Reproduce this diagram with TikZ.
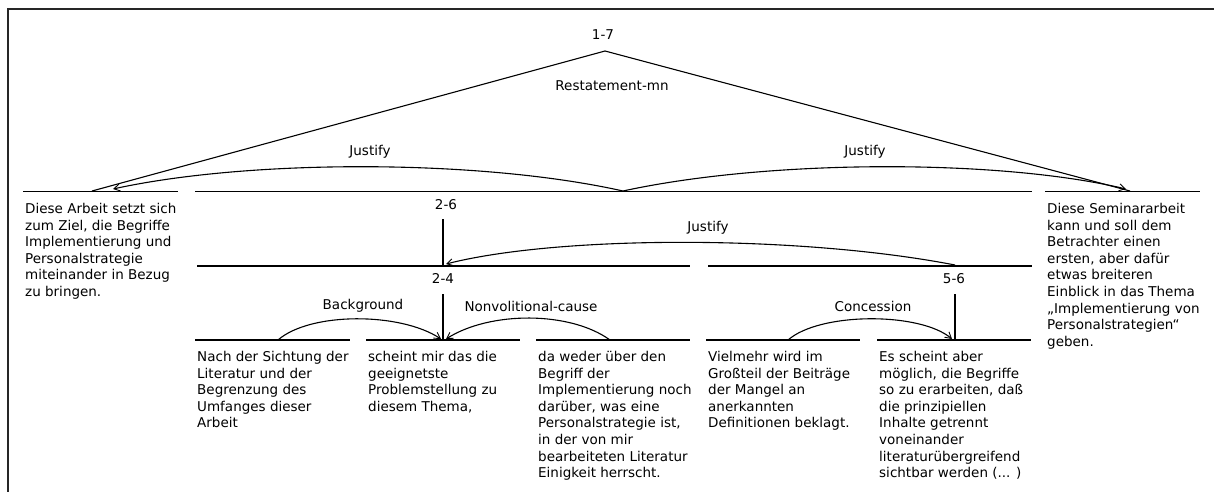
\documentclass[tikz,border=0pt]{standalone}
\usepackage{fontspec}
\setmainfont{DejaVu Sans}
\usetikzlibrary{arrows.meta}
\newcommand\rstfont{\fontsize{13.5}{16.6}\selectfont}
\tikzset{
  rule/.style={line width=1.2pt, black},
  span/.style={line width=1.1pt, black},
  rel/.style={line width=1.1pt, black, -{Straight Barb[length=6pt,width=7pt,line width=0.9pt]}},
  leaf/.style={anchor=north west, align=left, inner sep=0pt, font=\rstfont, execute at begin node=\strut},
  lbl/.style={inner sep=0pt, font=\rstfont},
  frame/.style={line width=1.6pt, black!85}
}
\begin{document}
\begin{tikzpicture}[x=1pt,y=-1pt]
\useasboundingbox (0,0) rectangle (1214,492);
% frame
\coordinate (fBL) at (8,492); \coordinate (fTL) at (8,9); \coordinate (fTR) at (1214,9);
\draw[frame] (fBL) -- (fTL) -- (fTR);

% ---------- level 0: 1-7 ----------
\node[lbl] (n17) at (603,35) {1-7};
\node[lbl] (restate) at (612,86) {Restatement-mn};
\coordinate (apex) at (605,51);
\coordinate (s1a) at (23,191.5); \coordinate (s1b) at (178,191.5);
\coordinate (s26a) at (195,191.5); \coordinate (s26b) at (1032,191.5);
\coordinate (s7a) at (1045,191.5); \coordinate (s7b) at (1200,191.5);
\draw[rule] (s1a) -- (s1b);
\draw[rule] (s26a) -- (s26b);
\draw[rule] (s7a) -- (s7b);
\coordinate (t1) at (92,191); \coordinate (t7) at (1130,191);
\draw[span] (t1) -- (apex) -- (t7);

% Justify arcs at top
\coordinate (m26) at (623,191);
\coordinate (a1) at (113,189); \coordinate (a7) at (1126,189);
\draw[rel] (m26) .. controls (480,159) and (250,159) .. (a1);
\draw[rel] (m26) .. controls (770,159) and (1000,159) .. (a7);
\node[lbl] (j1) at (370,152) {Justify};
\node[lbl] (j7) at (865,152) {Justify};

% leaves 1 and 7
\node[leaf] (leaf1) at (25,203) {Diese Arbeit setzt sich\\zum Ziel, die Begriffe\\Implementierung und\\Personalstrategie\\miteinander in Bezug\\zu bringen.};
\node[leaf] (leaf7) at (1047,203) {Diese Seminararbeit\\kann und soll dem\\Betrachter einen\\ersten, aber dafür\\etwas breiteren\\Einblick in das Thema\\„Implementierung von\\Personalstrategien“\\geben.};

% ---------- level 1: 2-6 ----------
\node[lbl] (n26) at (446,205) {2-6};
\coordinate (v26a) at (443,219); \coordinate (v26b) at (443,266);
\draw[span] (v26a) -- (v26b);
\coordinate (s24a) at (197,266); \coordinate (s24b) at (690,266);
\coordinate (s56a) at (708,266); \coordinate (s56b) at (1032,266);
\draw[rule] (s24a) -- (s24b);
\draw[rule] (s56a) -- (s56b);
\coordinate (m56) at (955,265); \coordinate (a24) at (446,264);
\draw[rel] (m56) .. controls (800,235) and (560,235) .. (a24);
\node[lbl] (j26) at (708,228) {Justify};

% ---------- level 2: 2-4 ----------
\node[lbl] (n24) at (443,278) {2-4};
\coordinate (v24a) at (443,294); \coordinate (v24b) at (443,340);
\draw[span] (v24a) -- (v24b);
% ---------- level 2: 5-6 ----------
\node[lbl] (n56) at (954,279) {5-6};
\coordinate (v56a) at (955,294); \coordinate (v56b) at (955,340);
\draw[span] (v56a) -- (v56b);

% leaf rules
\coordinate (c1a) at (195,340); \coordinate (c1b) at (350,340);
\coordinate (c2a) at (366,340); \coordinate (c2b) at (520,340);
\coordinate (c3a) at (536,340); \coordinate (c3b) at (690,340);
\coordinate (c4a) at (706,340); \coordinate (c4b) at (860,340);
\coordinate (c5a) at (877,340); \coordinate (c5b) at (1031,340);
\draw[rule] (c1a) -- (c1b);
\draw[rule] (c2a) -- (c2b);
\draw[rule] (c3a) -- (c3b);
\draw[rule] (c4a) -- (c4b);
\draw[rule] (c5a) -- (c5b);

% relations
\coordinate (o1) at (278,340); \coordinate (o3) at (610,340); \coordinate (o4) at (788,340);
\coordinate (tb) at (441,339); \coordinate (tn) at (446,339); \coordinate (tc) at (952,339);
\draw[rel] (o1) .. controls (310,312) and (400,312) .. (tb);
\draw[rel] (o3) .. controls (570,311) and (490,311) .. (tn);
\draw[rel] (o4) .. controls (820,312) and (920,312) .. (tc);
\node[lbl] (bg) at (363,306) {Background};
\node[lbl] (nvc) at (531,306) {Nonvolitional-cause};
\node[lbl] (conc) at (873,306) {Concession};

% leaf texts
\node[leaf] (leaf2) at (197,351) {Nach der Sichtung der\\Literatur und der\\Begrenzung des\\Umfanges dieser\\Arbeit};
\node[leaf] (leaf3) at (368,351) {scheint mir das die\\geeignetste\\Problemstellung zu\\diesem Thema,};
\node[leaf] (leaf4) at (538,351) {da weder über den\\Begriff der\\Implementierung noch\\darüber, was eine\\Personalstrategie ist,\\in der von mir\\bearbeiteten Literatur\\Einigkeit herrscht.};
\node[leaf] (leaf5) at (708,351) {Vielmehr wird im\\Großteil der Beiträge\\der Mangel an\\anerkannten\\Definitionen beklagt.};
\node[leaf] (leaf6) at (879,351) {Es scheint aber\\möglich, die Begriffe\\so zu erarbeiten, daß\\die prinzipiellen\\Inhalte getrennt\\voneinander\\literaturübergreifend\\sichtbar werden (... )};
\end{tikzpicture}
\end{document}
